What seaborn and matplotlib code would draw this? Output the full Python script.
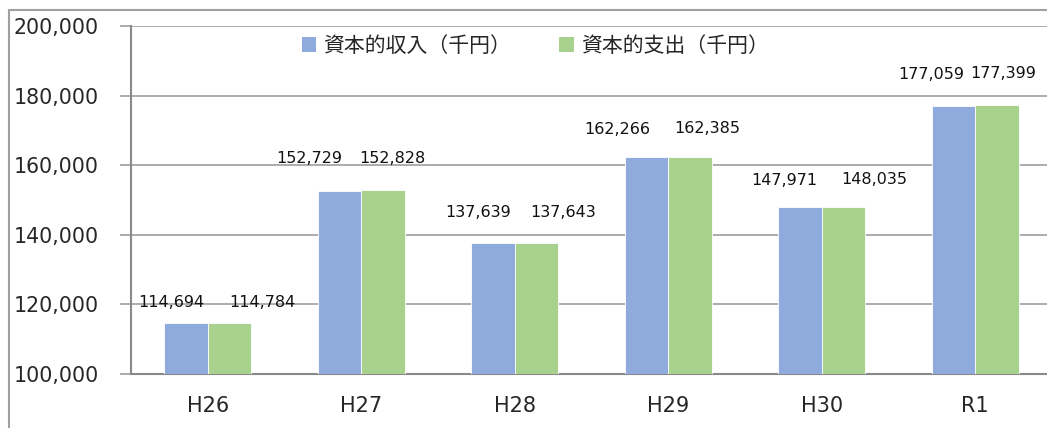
import matplotlib
matplotlib.use("Agg")
import matplotlib.pyplot as plt
import pandas as pd
import seaborn as sns
from matplotlib.lines import Line2D
from matplotlib.patches import Patch

years = ["H26", "H27", "H28", "H29", "H30", "R1"]
income = [114694, 152729, 137639, 162266, 147971, 177059]
expense = [114784, 152828, 137643, 162385, 148035, 177399]
series_names = ["資本的収入（千円）", "資本的支出（千円）"]
colors = ["#8FAADC", "#A9D18E"]

df = pd.DataFrame(
    {
        "year": years * 2,
        "value": income + expense,
        "series": [series_names[0]] * len(years) + [series_names[1]] * len(years),
    }
)

sns.set_style("white")
plt.rcParams["font.family"] = ["DejaVu Sans", "Noto Sans CJK JP"]

fig = plt.figure(figsize=(10.47, 4.28), dpi=100)
ax = fig.add_axes([131 / 1047, 54 / 428, 921 / 1047, 348 / 428])

sns.barplot(
    data=df,
    x="year",
    y="value",
    hue="series",
    palette=colors,
    width=0.567,
    gap=0,
    saturation=1,
    edgecolor="white",
    linewidth=0.6,
    legend=False,
    ax=ax,
    zorder=3,
)

ax.set_ylim(100000, 200000)
ax.set_xlim(-0.5, 5.5)
ax.set_yticks(range(100000, 200001, 20000))
ax.yaxis.set_major_formatter(matplotlib.ticker.FuncFormatter(lambda v, p: f"{int(v):,}"))
ax.grid(axis="y", color="#a6a6a6", linewidth=1.3, zorder=0)
ax.set_xlabel("")
ax.set_ylabel("")

# tick marks between categories
ax.set_xticks([i - 0.5 for i in range(len(years) + 1)], minor=True)
ax.tick_params(axis="x", which="major", length=0, pad=16, labelsize=15)
ax.tick_params(axis="x", which="minor", length=6, width=1.3, color="#898989", direction="out")
ax.tick_params(axis="y", length=8, width=1.3, color="#a6a6a6", pad=15, labelsize=14.8, left=True)

for side in ["top", "right"]:
    ax.spines[side].set_visible(False)
for side in ["left", "bottom"]:
    ax.spines[side].set_color("#898989")
    ax.spines[side].set_linewidth(1.5)

# data labels (pixel offsets from the bar top, placed by hand like the original)
offsets = [
    [(-15, 20), (-30, 32), (-15, 31), (-29, 28), (-16, 27), (-22, 31)],
    [(33, 20), (9, 32), (27, 31), (17, 28), (31, 27), (6, 31)],
]
for k, cont in enumerate(ax.containers):
    vals = income if k == 0 else expense
    for j, bar in enumerate(cont):
        dx, dy = offsets[k][j]
        ax.annotate(
            f"{vals[j]:,}",
            xy=(bar.get_x() + bar.get_width() / 2, vals[j]),
            xytext=(dx, dy),
            textcoords="offset pixels",
            ha="center",
            va="center",
            fontsize=11.5,
            color="#111111",
        )

handles = [Patch(facecolor=c, edgecolor="none") for c in colors]
ax.legend(
    handles,
    series_names,
    loc="center",
    bbox_to_anchor=(0.439, 0.943),
    ncol=2,
    frameon=False,
    prop={"family": ["Noto Sans CJK JP", "DejaVu Sans"], "size": 15},
    handlelength=0.7,
    handleheight=0.7,
    handletextpad=0.35,
    columnspacing=2.3,
)

# chart frame, clipped at the right and bottom as in the original
fig.add_artist(Line2D([9 / 1047, 1], [1 - 10 / 428, 1 - 10 / 428], color="#a0a0a0", linewidth=1.5))
fig.add_artist(Line2D([9 / 1047, 9 / 1047], [0, 1 - 10 / 428], color="#a0a0a0", linewidth=1.5))

fig.savefig("out.png", dpi=100)
